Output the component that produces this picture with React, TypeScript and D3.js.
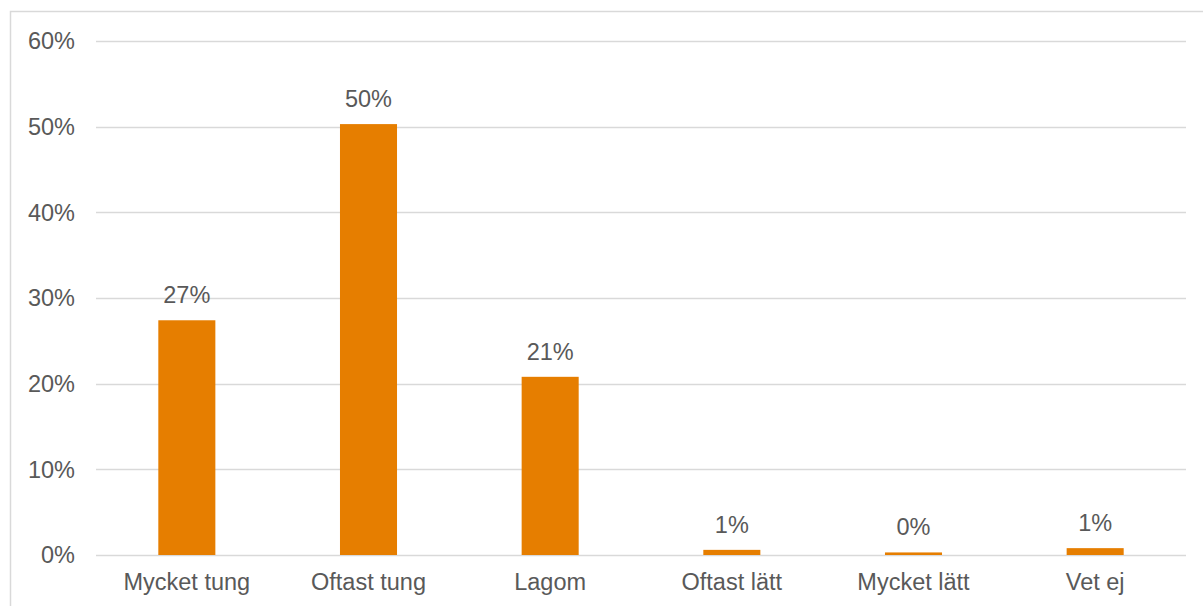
import React from "react";
import * as d3 from "d3";

const categories = ["Mycket tung", "Oftast tung", "Lagom", "Oftast lätt", "Mycket lätt", "Vet ej"];
const values = [27.4, 50.3, 20.8, 0.6, 0.3, 0.8];
const dataLabels = ["27%", "50%", "21%", "1%", "0%", "1%"];
const yTicks = [0, 10, 20, 30, 40, 50, 60];

const W = 1203;
const H = 606;
const left = 96;
const right = 1186;
const top = 41;
const bottom = 555;
const FONT = "'Liberation Sans', Arial, sans-serif";
const TEXT = "#595959";

export default function App() {
  const x = d3.scaleBand<string>().domain(categories).range([left, right]).paddingInner(0.686).paddingOuter(0.343);
  const y = d3.scaleLinear().domain([0, 60]).range([bottom, top]);
  return (
    <svg width={W} height={H} style={{ position: "absolute", left: 0, top: 0, background: "#fff" }}>
      <rect x={10.5} y={11.5} width={1250} height={650} fill="#fff" stroke="#d9d9d9" strokeWidth={1.5} />
      {yTicks.map((t) => (
        <g key={t}>
          <line x1={left} x2={right} y1={Math.round(y(t)) + 0.5} y2={Math.round(y(t)) + 0.5} stroke="#d9d9d9" strokeWidth={1.5} />
          <text x={75} y={y(t)} dy="0.35em" textAnchor="end" fontFamily={FONT} fontSize={23.5} fill={TEXT}>
            {t}%
          </text>
        </g>
      ))}
      {categories.map((c, i) => {
        const bx = x(c)!;
        const bw = x.bandwidth();
        return (
          <g key={c}>
            <rect x={bx} y={y(values[i])} width={bw} height={bottom - y(values[i])} fill="#e67e00" />
            <text x={bx + bw / 2} y={y(values[i]) - 17} textAnchor="middle" fontFamily={FONT} fontSize={23.5} fill={TEXT}>
              {dataLabels[i]}
            </text>
            <text x={bx + bw / 2} y={590} textAnchor="middle" fontFamily={FONT} fontSize={23.5} fill={TEXT}>
              {c}
            </text>
          </g>
        );
      })}
    </svg>
  );
}
